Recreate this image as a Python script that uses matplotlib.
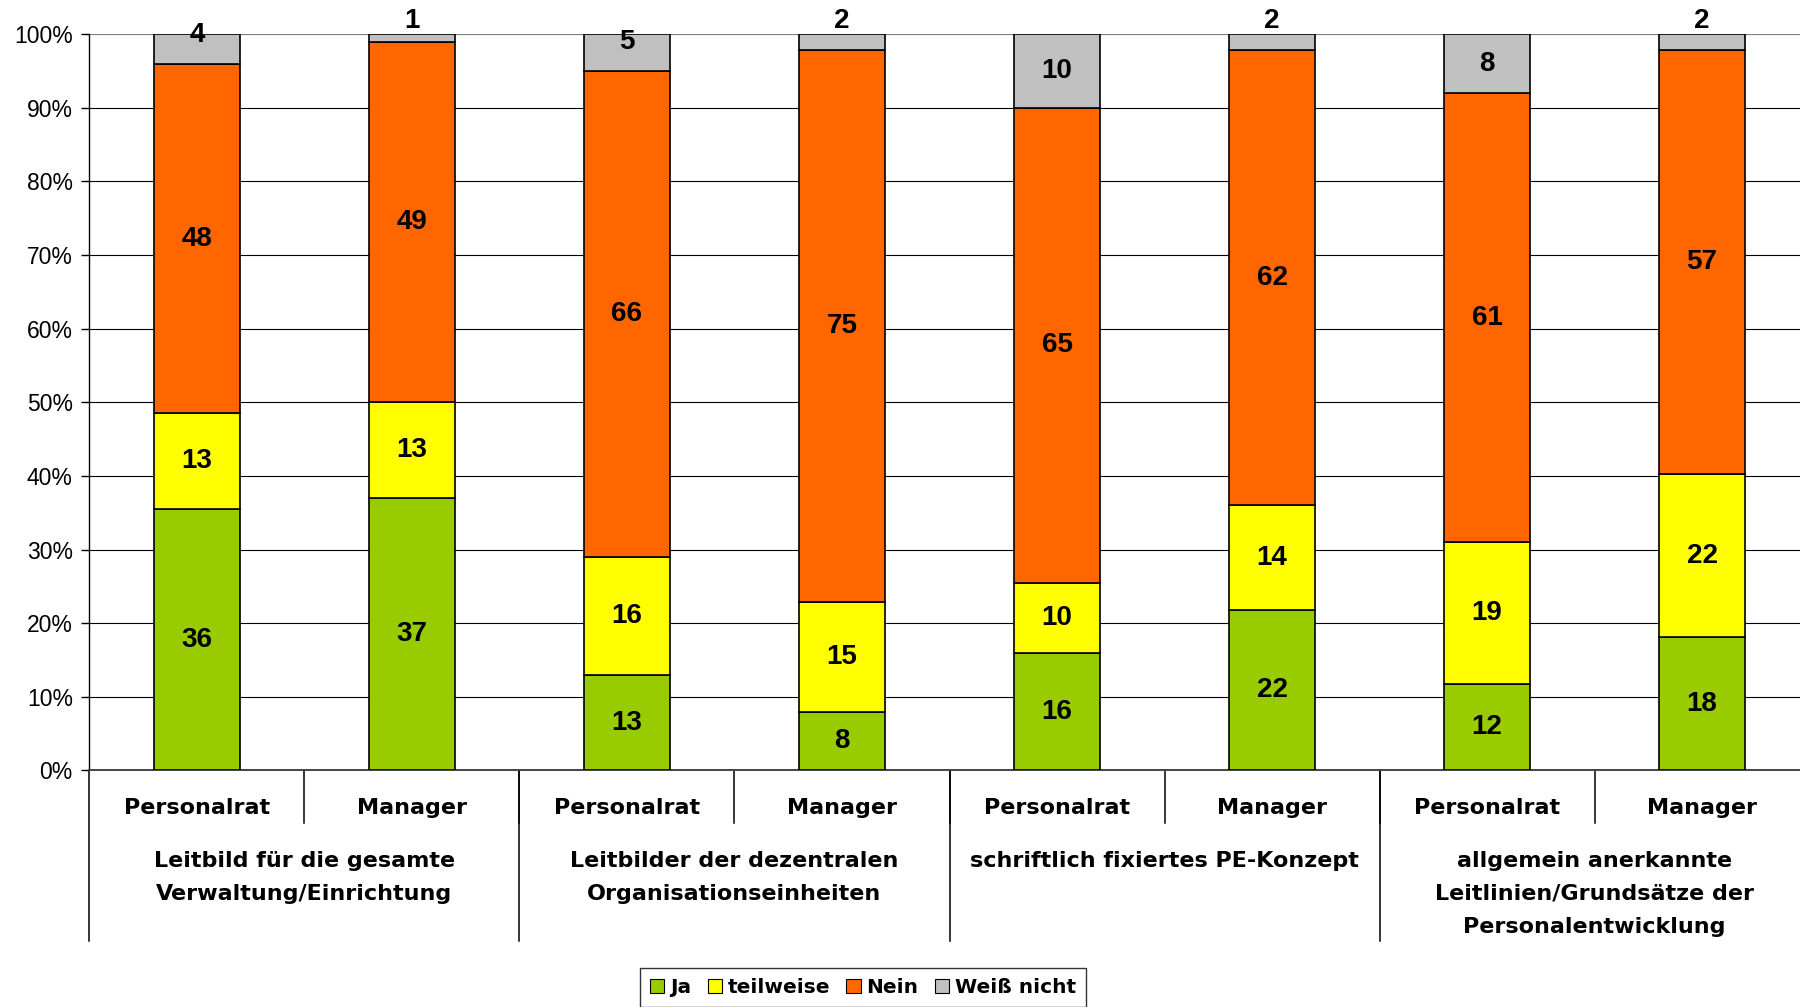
import matplotlib
matplotlib.use("Agg")
import matplotlib.pyplot as plt
from matplotlib.patches import Patch
import numpy as np


# --- DATEN (Prozent je Balken, Beschriftung = gerundete Werte) ---
gruppen = [
    "Leitbild für die gesamte\nVerwaltung/Einrichtung",
    "Leitbilder der dezentralen\nOrganisationseinheiten",
    "schriftlich fixiertes PE-Konzept",
    "allgemein anerkannte\nLeitlinien/Grundsätze der\nPersonalentwicklung",
]
befragte = ["Personalrat", "Manager"]

serien = ["Ja", "teilweise", "Nein", "Weiß nicht"]
farben = ["#99CC00", "#FFFF00", "#FF6600", "#C0C0C0"]

ja = [35.5, 37.0, 12.9, 7.9, 15.9, 21.8, 11.8, 18.1]
teilweise = [13.0, 13.0, 16.1, 15.0, 9.6, 14.2, 19.2, 22.1]
nein = [47.4, 49.0, 66.0, 75.0, 64.5, 61.9, 61.0, 57.7]
weiss_nicht = [4.1, 1.0, 5.0, 2.1, 10.0, 2.1, 8.0, 2.1]

ja_lbl = [36, 37, 13, 8, 16, 22, 12, 18]
teilweise_lbl = [13, 13, 16, 15, 10, 14, 19, 22]
nein_lbl = [48, 49, 66, 75, 65, 62, 61, 57]
weiss_nicht_lbl = [4, 1, 5, 2, 10, 2, 8, 2]

werte = [ja, teilweise, nein, weiss_nicht]
labels = [ja_lbl, teilweise_lbl, nein_lbl, weiss_nicht_lbl]

# --- FIGUR ---
fig = plt.figure(figsize=(18, 10.07), dpi=100)
ax = fig.add_axes([0.0497, 0.2349, 0.9556, 0.7311])

x = np.arange(len(befragte) * len(gruppen))
boden = np.zeros(len(x))
for s, (vals, lbls) in enumerate(zip(werte, labels)):
    vals = np.array(vals)
    ax.bar(x, vals, width=0.4, bottom=boden, color=farben[s],
           edgecolor="black", linewidth=1.2, zorder=3)
    for i in range(len(x)):
        y = boden[i] + vals[i] / 2
        if s == 3 and vals[i] < 8:
            # kleine Segmente: Beschriftung nach oben geschoben
            y = min(101.8, y + 1.5 + (5 - vals[i]) * 0.55)
        ax.text(x[i], y, str(lbls[i]), ha="center", va="center",
                fontsize=20, fontweight="bold", family="Liberation Sans",
                zorder=5, clip_on=False)
    boden += vals

# Gitterlinien
for g in range(10, 100, 10):
    ax.axhline(g, color="black", linewidth=0.8, zorder=1)
ax.axhline(100, color="#808080", linewidth=1.6, zorder=1)

ax.set_xlim(-0.5, len(x) - 0.5)
ax.set_ylim(0, 100)
ax.set_yticks(range(0, 101, 10))
ax.set_yticklabels([f"{t}%" for t in range(0, 101, 10)],
                   fontsize=16.5, family="Liberation Sans")
ax.tick_params(axis="y", length=6, width=1.0, pad=6, direction="out")
ax.set_xticks([])

for sp in ["top", "right"]:
    ax.spines[sp].set_visible(False)
ax.spines["left"].set_linewidth(1.0)
ax.spines["bottom"].set_color("#444444")
ax.spines["bottom"].set_linewidth(1.4)

# --- ACHSENBESCHRIFTUNG (zweistufig) ---
tr = ax.get_xaxis_transform()
for i in range(len(x)):
    ax.text(x[i], -0.0591, befragte[i % 2], transform=tr, ha="center",
            va="baseline", fontsize=16, fontweight="bold",
            family="DejaVu Sans", clip_on=False)

for g, name in enumerate(gruppen):
    for k, zeile in enumerate(name.split("\n")):
        ax.text(2 * g + 0.5, -0.1307 - k * 0.04523, zeile, transform=tr,
                ha="center", va="baseline", fontsize=16, fontweight="bold",
                family="DejaVu Sans", clip_on=False)

# Trennlinien unter der Achse
for i in range(len(x)):
    ax.plot([x[i] + 0.5, x[i] + 0.5], [0, -0.0713], transform=tr,
            color="black", linewidth=1.1, clip_on=False)
for g in range(len(gruppen) + 1):
    ax.plot([2 * g - 0.5, 2 * g - 0.5], [0, -0.2312], transform=tr,
            color="black", linewidth=1.1, clip_on=False)

# --- LEGENDE ---
handles = [Patch(facecolor=c, edgecolor="black", linewidth=0.8) for c in farben]
leg = fig.legend(handles, serien, loc="upper center",
                 bbox_to_anchor=(0.4795, 0.0387), ncol=4, frameon=True,
                 fancybox=False, edgecolor="black", borderaxespad=0,
                 prop={"family": "DejaVu Sans", "weight": "bold", "size": 14.5},
                 handlelength=0.7, handleheight=0.7, handletextpad=0.3,
                 columnspacing=0.8, borderpad=0.5)
leg.get_frame().set_linewidth(1.0)

fig.savefig("out.png", dpi=100)
